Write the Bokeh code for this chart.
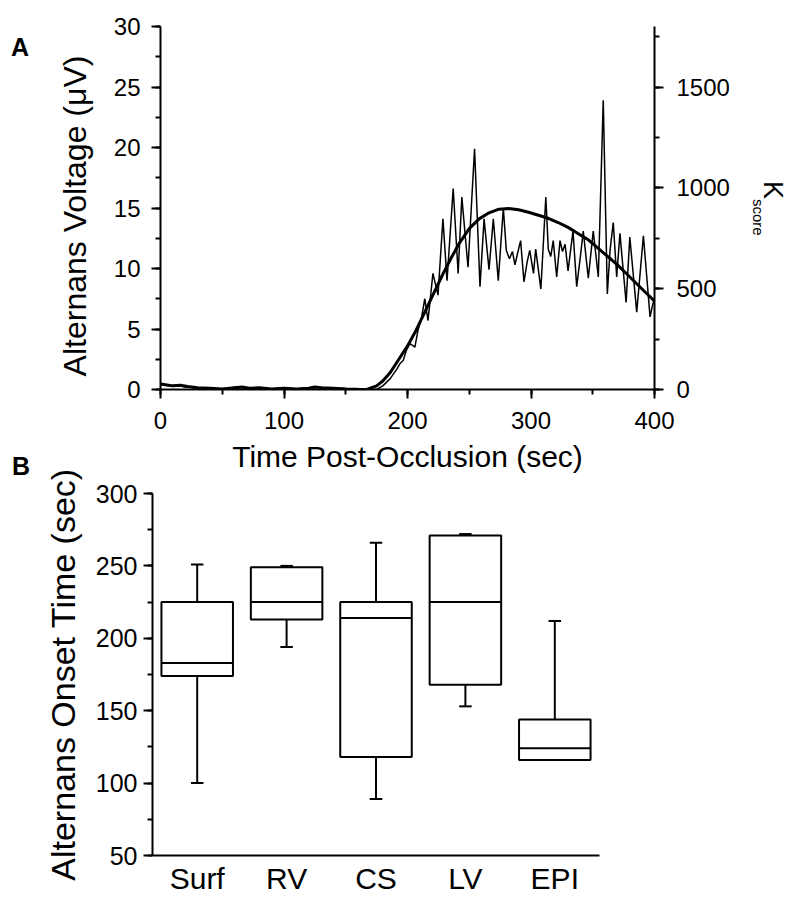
import numpy as np
from bokeh.plotting import figure
from bokeh.models import Range1d, LinearAxis, SingleIntervalTicker, FixedTicker, Div
from bokeh.embed import file_html
from bokeh.resources import INLINE

FONT = "Liberation Sans"

# ---------------- Panel A data ----------------
# thin trace: alternans voltage (uV)
volt_t = [0, 3, 8, 14, 20, 28, 35, 45, 55, 62, 70, 78, 88, 98, 110, 122, 128, 135, 145, 155, 165,
          175, 180, 186, 191.5, 194, 196.5, 199, 202, 206, 208.5, 211.5, 214, 216.6, 220.6, 224.7,
          228.7, 232, 237, 241, 244, 249, 254.3, 258.7, 262, 266, 269.5, 273.5, 277.6, 280, 282.5,
          285, 287, 289, 291.6, 294.3, 297, 299, 302, 303.8, 308, 312, 314, 316, 318, 320.8, 323.5,
          325.5, 327.6, 330, 334, 337, 340, 342.3, 346.4, 350.4, 354.5, 358.5, 361.8, 364, 366.6,
          369.4, 372, 377, 380, 385.6, 391, 396.4, 398.5, 400]
volt_v = [0.45, 0.35, 0.3, 0.35, 0.2, 0.15, 0.1, 0.05, 0.1, 0.2, 0.1, 0.15, 0.05, 0.1, 0.05, 0.15, 0.2,
          0.1, 0.1, 0.05, 0.0,
          0.0, 0.3, 0.9, 1.7, 2.15, 2.4, 3.2, 3.8, 3.5, 4.9, 6.0, 7.5, 5.7, 9.6, 7.8,
          14.1, 9.0, 16.6, 9.6, 15.9, 10.1, 19.9, 8.5, 14.1, 9.9, 14.1, 9.0, 15.0, 11.5, 10.8,
          11.4, 10.3, 11.2, 12.3, 8.9, 10.6, 11.5, 9.6, 11.6, 8.3, 15.9, 11.6, 11.0, 12.3, 9.3, 12.3,
          11.4, 12.0, 9.8, 13.1, 8.5, 11.0, 13.1, 9.2, 13.1, 9.3, 23.9, 7.9, 11.5, 13.8,
          9.3, 12.9, 7.2, 12.6, 6.4, 12.7, 6.0, 7.0, 7.5]

# thick trace: K score
k_t = [0, 4, 10, 16, 22, 30, 40, 50, 60, 66, 72, 80, 90, 100, 110, 120, 125, 130, 140, 150, 160, 167,
       175, 180, 186, 193, 200, 207, 214, 221, 228, 235, 242, 250, 258, 266, 274, 282, 290, 298, 306,
       314, 322, 330, 338, 346, 354, 362, 370, 378, 386, 393, 400]
k_v = [27, 24, 18, 21, 15, 9, 6, 3, 9, 12, 6, 9, 3, 6, 3, 6, 12, 9, 6, 3, 1, 0,
       18, 42, 84, 150, 216, 294, 384, 474, 564, 648, 726, 798, 846, 876, 894, 897, 891, 879, 864,
       849, 828, 804, 774, 744, 702, 660, 618, 570, 522, 480, 438]

# ---------------- Panel B data ----------------
sites = ["Surf", "RV", "CS", "LV", "EPI"]
whisk_low = [100, 194, 89, 153, 116]
q1 = [174, 213, 118, 168, 116]
median = [183, 225, 214, 225, 124]
q3 = [225, 249, 225, 271, 144]
whisk_high = [251, 250, 266, 272, 212]


def style_axis(ax, tick_size, label_size, standoff, label_standoff):
    ax.axis_line_width = 2
    ax.axis_line_color = "black"
    ax.major_tick_line_width = 2
    ax.minor_tick_line_width = 2
    ax.major_tick_line_color = "black"
    ax.minor_tick_line_color = "black"
    ax.major_tick_out = 9
    ax.major_tick_in = 0
    ax.minor_tick_out = 5
    ax.minor_tick_in = 0
    ax.major_label_text_font = FONT
    ax.major_label_text_font_size = f"{tick_size}px"
    ax.major_label_text_color = "black"
    ax.major_label_standoff = standoff
    ax.axis_label_text_font = FONT
    ax.axis_label_text_font_size = f"{label_size}px"
    ax.axis_label_text_font_style = "normal"
    ax.axis_label_text_color = "black"
    ax.axis_label_standoff = label_standoff


def floating_text(html, left, top, extra=None):
    styles = {"position": "absolute", "left": f"{left}px", "top": f"{top}px",
              "margin": "0", "padding": "0", "white-space": "nowrap", "color": "black",
              "font-family": f"'{FONT}'", "line-height": "1"}
    if extra:
        styles.update(extra)
    return Div(text=html, styles=styles, margin=(0, 0, 0, 0))


# ---------------- Panel A ----------------
pA = figure(frame_width=494, frame_height=363, x_range=Range1d(0, 400), y_range=Range1d(0, 30),
            output_backend="svg", toolbar_location=None,
            min_border_left=160, min_border_right=146, min_border_top=26, min_border_bottom=89)
pA.extra_y_ranges = {"k": Range1d(0, 1800)}
pA.grid.visible = False
pA.outline_line_color = None
pA.background_fill_color = "white"
pA.border_fill_color = "white"

pA.xaxis.ticker = SingleIntervalTicker(interval=100, num_minor_ticks=2)
pA.yaxis.ticker = SingleIntervalTicker(interval=5, num_minor_ticks=2)
pA.xaxis.axis_label = "Time Post-Occlusion (sec)"
pA.yaxis.axis_label = "Alternans Voltage (\u03bcV)\u2002"
style_axis(pA.xaxis[0], 24, 30, 13, 8)
style_axis(pA.yaxis[0], 24, 32, 11, 18)

rax = LinearAxis(y_range_name="k", ticker=SingleIntervalTicker(interval=500, num_minor_ticks=2))
style_axis(rax, 24, 26, 13, 10)
pA.add_layout(rax, "right")

pA.line(volt_t, volt_v, line_color="black", line_width=1.5)
pA.line(k_t, k_v, y_range_name="k", line_color="black", line_width=3)

# ---------------- Panel B ----------------
pos = list(range(1, len(sites) + 1))
pB = figure(frame_width=447, frame_height=362, x_range=Range1d(0.5, 5.5), y_range=Range1d(50, 300),
            output_backend="svg", toolbar_location=None,
            min_border_left=152, min_border_right=201, min_border_top=33, min_border_bottom=49)
pB.margin = (-18, 0, 0, 0)
pB.grid.visible = False
pB.outline_line_color = None
pB.background_fill_color = None
pB.border_fill_color = None
pB.xaxis.ticker = FixedTicker(ticks=pos, minor_ticks=[])
pB.xaxis.major_label_overrides = {p: s for p, s in zip(pos, sites)}
pB.yaxis.ticker = SingleIntervalTicker(interval=50, num_minor_ticks=2)
pB.yaxis.axis_label = "Alternans Onset Time (sec)"
style_axis(pB.xaxis[0], 30, 30, 6, 8)
pB.xaxis.major_tick_out = 0
style_axis(pB.yaxis[0], 25, 34, 6, 11)

half = 0.4
cap = 0.07
pB.quad(left=[p - half for p in pos], right=[p + half for p in pos], bottom=q1, top=q3,
        fill_color=None, line_color="black", line_width=2)
pB.segment(x0=[p - half for p in pos], x1=[p + half for p in pos], y0=median, y1=median,
           line_color="black", line_width=2)
pB.segment(x0=pos, x1=pos, y0=q3, y1=whisk_high, line_color="black", line_width=2)
pB.segment(x0=pos, x1=pos, y0=q1, y1=whisk_low, line_color="black", line_width=2)
pB.segment(x0=[p - cap for p in pos], x1=[p + cap for p in pos], y0=whisk_high, y1=whisk_high,
           line_color="black", line_width=2)
pB.segment(x0=[p - cap for p in pos], x1=[p + cap for p in pos], y0=whisk_low, y1=whisk_low,
           line_color="black", line_width=2)

# ---------------- free texts (panel letters, K-score axis title) ----------------
letter_A = floating_text('<span style="font-weight:bold;font-size:25px">A</span>', 11, 35)
letter_B = floating_text('<span style="font-weight:bold;font-size:25px">B</span>', 12, 454)
k_title = floating_text(
    '<span style="font-size:27px">K</span>'
    '<span style="font-size:15px;position:relative;top:11px">score</span>',
    786, 181, {"transform": "rotate(90deg)", "transform-origin": "0 0", "font-size": "27px"})

open("out.html", "w").write(file_html([pA, pB, letter_A, letter_B, k_title], INLINE))
